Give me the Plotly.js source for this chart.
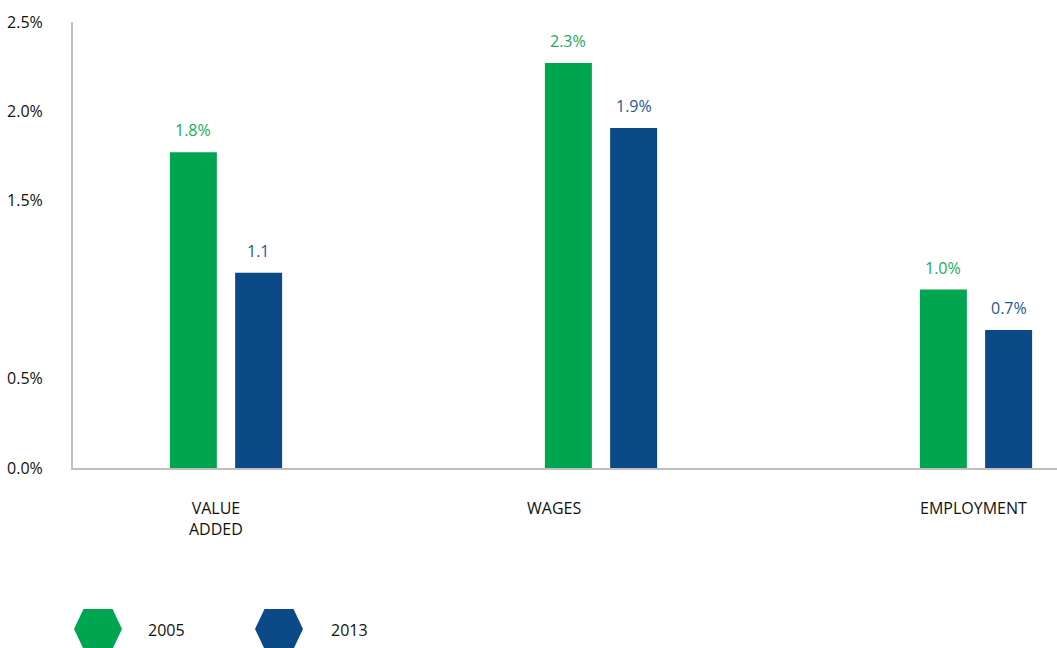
<!DOCTYPE html>
<html>
<head>
<meta charset="utf-8">
<script src="https://cdn.plot.ly/plotly-3.0.1.min.js"></script>
<style>html,body{margin:0;padding:0;background:#fff;}#chart{width:1057px;height:648px;}</style>
</head>
<body>
<div id="chart"></div>
<script>
const categories = ['VALUE ADDED', 'WAGES', 'EMPLOYMENT'];
const categoryLabels = ['VALUE<br>ADDED', 'WAGES', 'EMPLOYMENT'];
const seriesNames = ['2005', '2013'];
const values2005 = [1.77, 2.27, 1.00];
const values2013 = [1.095, 1.906, 0.774];
const labels2005 = ['1.8%', '2.3%', '1.0%'];
const labels2013 = ['1.1', '1.9%', '0.7%'];
const yTickVals = [0, 0.5, 1.5, 2.0, 2.5];
const yTickText = ['0.0%', '0.5%', '1.5%', '2.0%', '2.5%'];

const W = 1057, H = 648;
const M = {l: 73, r: 0, t: 22, b: 180};
const barColors = ['#00a54f', '#0b4a87'];
const textColors = ['#22a95b', '#1f5896'];
const FONT = 'Open Sans, sans-serif';
const FS = 16;

const traces = [
  {type: 'bar', name: seriesNames[0], x: categories, y: values2005, marker: {color: barColors[0]}, hoverinfo: 'none'},
  {type: 'bar', name: seriesNames[1], x: categories, y: values2013, marker: {color: barColors[1]}, hoverinfo: 'none'}
];

const annotations = [];
const seriesVals = [values2005, values2013];
const seriesLabels = [labels2005, labels2013];
const barOffset = [-32.6, 32.6];
for (let s = 0; s < 2; s++) {
  for (let i = 0; i < categories.length; i++) {
    annotations.push({
      x: categories[i], y: seriesVals[s][i], xref: 'x', yref: 'y',
      text: seriesLabels[s][i], showarrow: false,
      xshift: barOffset[s], yshift: 22, yanchor: 'middle', xanchor: 'center',
      font: {family: FONT, size: FS, color: textColors[s]}
    });
  }
}
const catShift = [-10, -47, -3];
for (let i = 0; i < categories.length; i++) {
  annotations.push({
    x: categories[i], y: 0, xref: 'x', yref: 'y',
    text: categoryLabels[i], showarrow: false, xshift: catShift[i], yshift: -27,
    yanchor: 'top', xanchor: 'center', align: 'center',
    font: {family: FONT, size: FS, color: '#111111'}
  });
}

// legend (drawn manually with hexagon symbols)
const pw = W - M.l - M.r, ph = H - M.t - M.b;
const px = v => (v - M.l) / pw;
const py = v => (H - M.b - v) / ph;
function hexPath(cx, cy, hw, fw, hh) {
  const pts = [[cx - hw, cy], [cx - fw, cy - hh], [cx + fw, cy - hh], [cx + hw, cy], [cx + fw, cy + hh], [cx - fw, cy + hh]];
  return 'M' + pts.map(p => px(p[0]).toFixed(5) + ',' + py(p[1]).toFixed(5)).join('L') + 'Z';
}
const legendPos = [{hx: 98, tx: 146}, {hx: 279, tx: 329}];
const legendY = 629;
const shapes = [];
for (let s = 0; s < 2; s++) {
  shapes.push({type: 'path', xref: 'paper', yref: 'paper', path: hexPath(legendPos[s].hx, legendY, 24, 14.5, 20),
    fillcolor: barColors[s], line: {width: 0}});
  annotations.push({x: px(legendPos[s].tx), y: py(legendY + 1), xref: 'paper', yref: 'paper',
    text: seriesNames[s], showarrow: false, xanchor: 'left', yanchor: 'middle',
    font: {family: FONT, size: FS, color: '#111111'}});
}

const layout = {
  width: W, height: H,
  margin: M,
  paper_bgcolor: '#ffffff', plot_bgcolor: '#ffffff',
  showlegend: false,
  barmode: 'group', bargap: 0.652, bargroupgap: 0.28,
  font: {family: FONT, size: FS, color: '#111111'},
  xaxis: {type: 'category', range: [-0.408, 2.216], showticklabels: false, ticks: '',
    showline: true, linecolor: '#bfbfbf', linewidth: 2, showgrid: false, zeroline: false, fixedrange: true},
  yaxis: {range: [0, 2.5], tickvals: yTickVals, ticktext: yTickText, ticks: '',
    showline: true, linecolor: '#bfbfbf', linewidth: 2, showgrid: false, zeroline: false,
    ticklabelstandoff: 25, tickfont: {family: FONT, size: FS, color: '#111111'}, fixedrange: true},
  annotations: annotations,
  shapes: shapes
};

Plotly.newPlot('chart', traces, layout, {displayModeBar: false, staticPlot: true});
</script>
</body>
</html>
